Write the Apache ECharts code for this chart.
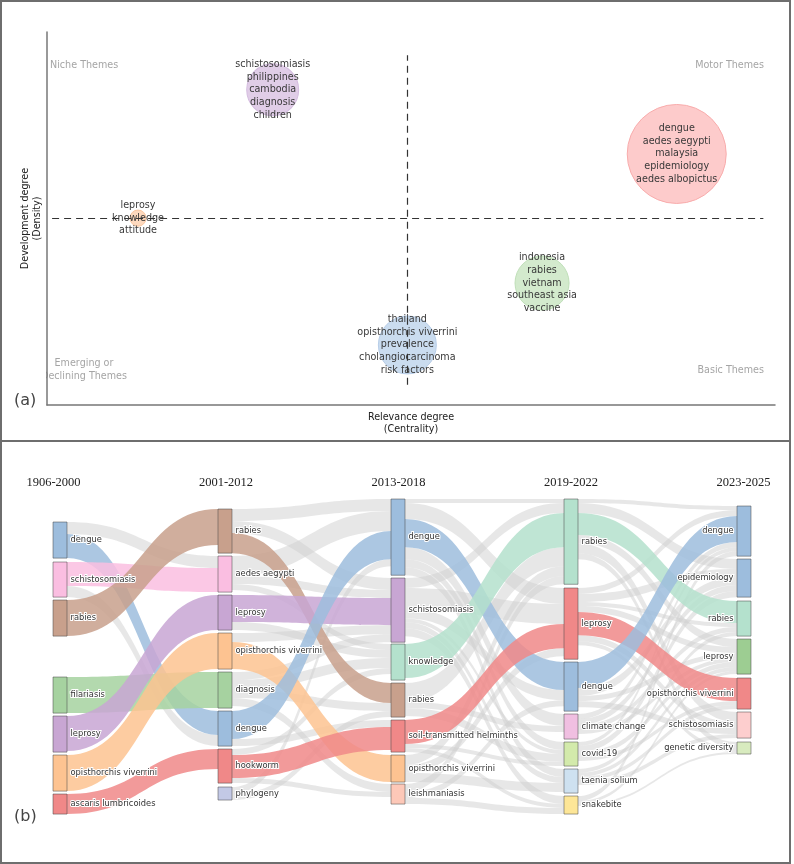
<!DOCTYPE html>
<html><head><meta charset="utf-8">
<script src="https://cdn.jsdelivr.net/npm/echarts@6/dist/echarts.min.js"></script>
<style>html,body{margin:0;padding:0;background:#fff}#chart{width:794px;height:864px}</style>
</head><body><div id="chart"></div>
<script>
// ================= (a) strategic map data =================
const clusterKeywords = [
  ['schistosomiasis','philippines','cambodia','diagnosis','children'],
  ['leprosy','knowledge','attitude'],
  ['dengue','aedes aegypti','malaysia','epidemiology','aedes albopictus'],
  ['indonesia','rabies','vietnam','southeast asia','vaccine'],
  ['thailand','opisthorchis viverrini','prevalence','cholangiocarcinoma','risk factors']
];
const centrality = [3.10, 1.25, 8.65, 6.80, 4.95];
const density    = [8.45, 5.01, 6.73, 3.27, 1.61];
const clusterFreq = [270, 26, 980, 292, 336];
const centralityMedian = 4.95;
const densityMedian = 5.01;
const quadrantNames = ['Niche Themes','Motor Themes','Emerging or\nDeclining Themes','Basic Themes'];

// ================= (b) thematic evolution data =================
const periods = ['1906-2000','2001-2012','2013-2018','2019-2022','2023-2025'];
const themesP1 = ['dengue','schistosomiasis','rabies','filariasis','leprosy','opisthorchis viverrini','ascaris lumbricoides'];
const weightsP1 = [36,35,36,36,36,36,20];
const themesP2 = ['rabies','aedes aegypti','leprosy','opisthorchis viverrini','diagnosis','dengue','hookworm','phylogeny'];
const weightsP2 = [44,36,35,36,36,35,34,13];
const themesP3 = ['dengue','schistosomiasis','knowledge','rabies','soil-transmitted helminths','opisthorchis viverrini','leishmaniasis'];
const weightsP3 = [76,64,36,34,32,27,20];
const themesP4 = ['rabies','leprosy','dengue','climate change','covid-19','taenia solium','snakebite'];
const weightsP4 = [85,71,49,25,24,24,18];
const themesP5 = ['dengue','epidemiology','rabies','leprosy','opisthorchis viverrini','schistosomiasis','genetic diversity'];
const weightsP5 = [50,38,35,35,31,26,12];

const flowsP1P2 = [
  ['dengue','aedes aegypti',12],['dengue','dengue',24],
  ['schistosomiasis','aedes aegypti',24],['schistosomiasis','dengue',11],
  ['rabies','rabies',36],['filariasis','diagnosis',36],['leprosy','leprosy',35],
  ['opisthorchis viverrini','opisthorchis viverrini',36],['ascaris lumbricoides','hookworm',20]
];
const flowsP2P3 = [
  ['rabies','dengue',12],['rabies','rabies',20],['rabies','schistosomiasis',12],
  ['aedes aegypti','dengue',20],['aedes aegypti','schistosomiasis',8],['aedes aegypti','knowledge',6],
  ['leprosy','schistosomiasis',27],['leprosy','knowledge',8],
  ['opisthorchis viverrini','opisthorchis viverrini',27],['opisthorchis viverrini','schistosomiasis',9],
  ['diagnosis','schistosomiasis',8],['diagnosis','knowledge',10],['diagnosis','leishmaniasis',8],['diagnosis','rabies',8],
  ['dengue','dengue',28],['dengue','soil-transmitted helminths',7],
  ['hookworm','soil-transmitted helminths',23],['hookworm','knowledge',6],['hookworm','leishmaniasis',5],
  ['phylogeny','dengue',7],['phylogeny','rabies',6]
];
const flowsP3P4 = [
  ['dengue','dengue',28],['dengue','rabies',4],['dengue','leprosy',16],['dengue','climate change',12],['dengue','covid-19',8],['dengue','taenia solium',8],
  ['schistosomiasis','rabies',10],['schistosomiasis','leprosy',20],['schistosomiasis','dengue',10],['schistosomiasis','snakebite',8],['schistosomiasis','taenia solium',6],['schistosomiasis','covid-19',4],
  ['knowledge','rabies',34],
  ['rabies','rabies',19],['rabies','climate change',6],['rabies','covid-19',8],
  ['soil-transmitted helminths','leprosy',24],['soil-transmitted helminths','snakebite',4],['soil-transmitted helminths','covid-19',4],
  ['opisthorchis viverrini','rabies',10],['opisthorchis viverrini','leprosy',8],['opisthorchis viverrini','taenia solium',9],
  ['leishmaniasis','rabies',8],['leishmaniasis','dengue',6],['leishmaniasis','snakebite',6]
];
const flowsP4P5 = [
  ['rabies','dengue',4],['rabies','epidemiology',10],['rabies','rabies',22],['rabies','leprosy',8],['rabies','schistosomiasis',10],['rabies','genetic diversity',6],
  ['leprosy','dengue',6],['leprosy','epidemiology',8],['leprosy','rabies',4],['leprosy','leprosy',6],['leprosy','opisthorchis viverrini',23],['leprosy','schistosomiasis',6],['leprosy','genetic diversity',4],
  ['dengue','dengue',26],['dengue','epidemiology',8],['dengue','leprosy',5],['dengue','schistosomiasis',6],
  ['climate change','dengue',5],['climate change','epidemiology',6],['climate change','rabies',5],['climate change','leprosy',4],
  ['covid-19','dengue',4],['covid-19','epidemiology',6],['covid-19','leprosy',5],['covid-19','opisthorchis viverrini',4],
  ['taenia solium','rabies',4],['taenia solium','leprosy',4],['taenia solium','opisthorchis viverrini',4],['taenia solium','schistosomiasis',4],
  ['snakebite','dengue',5],['snakebite','leprosy',3],['snakebite','genetic diversity',2]
];
// main evolution paths (coloured links)
const mainP1P2 = [['dengue','dengue'],['schistosomiasis','aedes aegypti'],['rabies','rabies'],['filariasis','diagnosis'],['leprosy','leprosy'],['opisthorchis viverrini','opisthorchis viverrini'],['ascaris lumbricoides','hookworm']];
const mainP2P3 = [['rabies','rabies'],['leprosy','schistosomiasis'],['opisthorchis viverrini','opisthorchis viverrini'],['dengue','dengue'],['hookworm','soil-transmitted helminths']];
const mainP3P4 = [['dengue','dengue'],['knowledge','rabies'],['soil-transmitted helminths','leprosy']];
const mainP4P5 = [['rabies','rabies'],['leprosy','opisthorchis viverrini'],['dengue','dengue']];

// ================= styles & layout (not data) =================
const clusterFill = ['#e0cde7','#fdd9be','#fdcbcb','#d3eacd','#cadcef'];
const clusterBorder = ['#d4bcdf','#fbc7a0','#f8acac','#c0e0b9','#b7cde8'];
const BLUE='#9dbddd', PINK='#fabee1', BROWN='#c8a08c', GREEN='#a6d2a0', PURPLE='#c8a6d3', ORANGE='#fdc391', RED='#f08888', TEAL='#b4e1cd';
const nodeColors = [
  [BLUE,PINK,BROWN,GREEN,PURPLE,ORANGE,RED],
  [BROWN,PINK,PURPLE,ORANGE,GREEN,BLUE,RED,'#c3c9e6'],
  [BLUE,PURPLE,TEAL,BROWN,RED,ORANGE,'#fdc8b8'],
  [TEAL,RED,BLUE,'#f0bfe1','#d3eaab','#cee1f0','#fde697'],
  [BLUE,BLUE,TEAL,'#9dcd92',RED,'#fdcece','#d8ebbf']
];
const nodeTops = [
  [522,562,600,677,716,755,794],
  [509,556,595,633,672,711,749,787],
  [499,578,644,683,720,755,784],
  [499,588,662,714,742,769,796],
  [506,559,601,639,678,712,742]
];
const columnX = [53,218,391,564,737];
const titleX = [53.5,226,398.5,571,743.5];
const SK = {left:53, top:499, width:698, height:315};

const themes = [themesP1,themesP2,themesP3,themesP4,themesP5];
const weights = [weightsP1,weightsP2,weightsP3,weightsP4,weightsP5];
const flows = [flowsP1P2,flowsP2P3,flowsP3P4,flowsP4P5];
const mains = [mainP1P2,mainP2P3,mainP3P4,mainP4P5];

const nodeId = (p,t) => p + '::' + t;
const sankeyNodes = [];
themes.forEach((arr,p) => arr.forEach((t,i) => {
  sankeyNodes.push({
    name: nodeId(p,t), value: weights[p][i],
    localX: (columnX[p]-SK.left)/SK.width,
    localY: (nodeTops[p][i]-SK.top)/SK.height,
    itemStyle: {color: nodeColors[p][i], borderColor:'rgba(70,70,70,0.5)', borderWidth:1},
    label: {position: p === 4 ? 'left' : 'right'}
  });
}));
const grayLinks = [], colorLinks = [];
flows.forEach((arr,p) => arr.forEach(([s,t,v]) => {
  const isMain = mains[p].some(m => m[0]===s && m[1]===t);
  const srcColor = nodeColors[p][themes[p].indexOf(s)];
  const link = {source: nodeId(p,s), target: nodeId(p+1,t), value: v,
    lineStyle: isMain ? {color: srcColor, opacity: 0.85} : {color:'#cfcfcf', opacity: 0.5}};
  (isMain ? colorLinks : grayLinks).push(link);
}));

const scatterData = centrality.map((x,i) => ({
  value: [x, density[i], clusterFreq[i]],
  itemStyle: {color: clusterFill[i], borderColor: clusterBorder[i], borderWidth: 1, opacity: 1},
  kw: clusterKeywords[i]
}));

const chart = echarts.init(document.getElementById('chart'), null, {renderer:'canvas'});
const SANS = 'DejaVu Sans';
chart.setOption({
  animation: false,
  backgroundColor: '#fff',
  grid: {left:47, right:19, top:32, bottom:459},
  xAxis: {type:'value', min:0, max:10,
    axisLine:{show:true, lineStyle:{color:'#777', width:1.5}}, axisTick:{show:false}, axisLabel:{show:false}, splitLine:{show:false},
    name:'Relevance degree\n(Centrality)', nameLocation:'middle', nameGap:6,
    nameTextStyle:{fontFamily:SANS, fontSize:9.6, color:'#222', lineHeight:12.5, verticalAlign:'top'}},
  yAxis: {type:'value', min:0, max:10,
    axisLine:{show:true, lineStyle:{color:'#777', width:1.5}}, axisTick:{show:false}, axisLabel:{show:false}, splitLine:{show:false},
    name:'Development degree\n(Density)', nameLocation:'middle', nameGap:3,
    nameTextStyle:{fontFamily:SANS, fontSize:9.6, color:'#222', lineHeight:12.5}},
  series: [
    {type:'scatter', data: scatterData, z: 2,
      symbolSize: v => Math.sqrt(v[2]*10),
      label: {show:true, position:'inside', formatter: p => p.data.kw.join('\n'),
        fontFamily:SANS, fontSize:9.6, lineHeight:12.7, color:'#383838',
        textBorderWidth:0, textBorderColor:'transparent', opacity:1},
      emphasis:{disabled:true},
      markLine: {silent:true, symbol:'none', z: 5,
        lineStyle:{color:'#333', type:[7,5], width:1.2},
        label:{show:false},
        data: [
          [{coord:[0.07, densityMedian]},{coord:[9.84, densityMedian]}],
          [{coord:[centralityMedian, 0.54]},{coord:[centralityMedian, 9.38]}]
        ]}
    },
    {type:'sankey', left:SK.left, top:SK.top, width:SK.width, height:SK.height,
      nodeWidth:14, nodeGap:3, layoutIterations:0, draggable:false,
      data: sankeyNodes, links: grayLinks.concat(colorLinks),
      label: {show:true, distance:3, fontFamily:SANS, fontSize:8.3, color:'#333',
        textBorderColor:'#fff', textBorderWidth:2,
        formatter: p => p.name.split('::')[1]},
      lineStyle: {curveness:0.5},
      emphasis:{disabled:true}
    }
  ],
  graphic: [
    {type:'rect', shape:{x:1, y:1, width:789, height:440}, style:{fill:'none', stroke:'#6e6e6e', lineWidth:2}, silent:true},
    {type:'rect', shape:{x:1, y:441, width:789, height:422}, style:{fill:'none', stroke:'#6e6e6e', lineWidth:2}, silent:true},
    {type:'text', x:50, y:65, style:{text:quadrantNames[0], font:'9.6px "DejaVu Sans"', fill:'#a5a5a5', textVerticalAlign:'middle'}},
    {type:'text', x:764, y:65, style:{text:quadrantNames[1], font:'9.6px "DejaVu Sans"', fill:'#a5a5a5', textAlign:'right', textVerticalAlign:'middle'}},
    {type:'text', x:84, y:370, style:{text:quadrantNames[2], font:'9.6px "DejaVu Sans"', fill:'#a5a5a5', textAlign:'center', textVerticalAlign:'middle', lineHeight:12.5}},
    {type:'rect', shape:{x:34, y:360, width:12, height:22}, style:{fill:'#fff'}, silent:true},
    {type:'text', x:764, y:370, style:{text:quadrantNames[3], font:'9.6px "DejaVu Sans"', fill:'#a5a5a5', textAlign:'right', textVerticalAlign:'middle'}},
    {type:'text', x:14, y:401, style:{text:'(a)', font:'16px "DejaVu Sans"', fill:'#444', textVerticalAlign:'middle'}},
    {type:'text', x:14, y:817, style:{text:'(b)', font:'16px "DejaVu Sans"', fill:'#444', textVerticalAlign:'middle'}}
  ].concat(periods.map((t,i) => ({type:'text', x:titleX[i], y:483,
    style:{text:t, font:'12.5px "Liberation Serif"', fill:'#222', textAlign:'center', textVerticalAlign:'middle'}})))
});
</script></body></html>
